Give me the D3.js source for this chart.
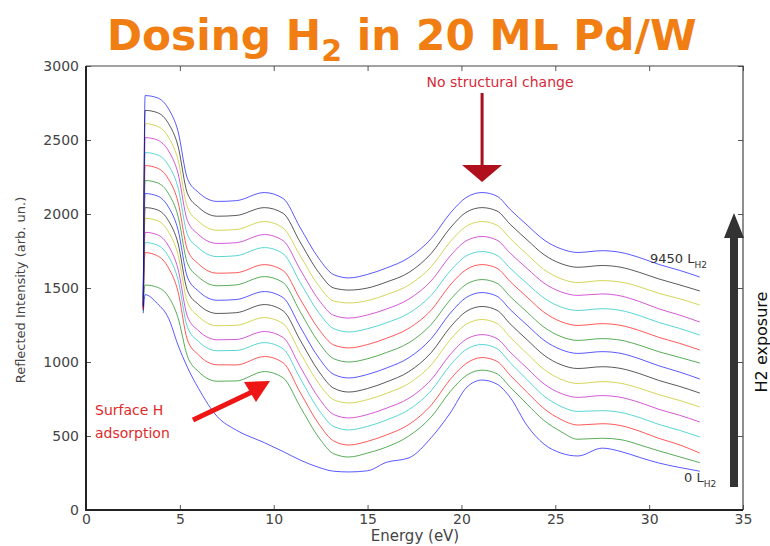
<!DOCTYPE html>
<html>
<head>
<meta charset="utf-8">
<script src="https://cdn.jsdelivr.net/npm/d3@7"></script>
<style>
body { margin: 0; background: #fff; }
text { font-family: "DejaVu Sans", sans-serif; }
</style>
</head>
<body>
<svg id="chart" width="770" height="546"></svg>
<script>
// Energy grid (eV) shared by all spectra
var energy = [3.05, 3.15, 3.8, 4.4, 4.9, 5.4, 6.0, 7.0, 8.0, 9.5, 10.5, 11.4, 12.4, 13.2, 14.0, 15.0, 16.0,
  17.2, 18.4, 19.4, 20.3, 21.1, 21.9, 22.6, 23.5, 24.4, 25.3, 26.2, 27.5, 28.5, 29.5, 30.5, 31.6, 32.7];

// Reflected intensity, one spectrum per H2 dose (bottom = 0 L, top = 9450 L)
var spec01 = [1330, 1455, 1395, 1295, 1115, 965, 820, 630, 540, 455, 395, 338, 288, 262, 257, 265, 322,
  352, 490, 655, 831, 878, 850, 760, 570, 445, 385, 365, 418, 395, 355, 318, 288, 262];
var spec02 = [1400, 1520, 1505, 1440, 1300, 1040, 935, 870, 872, 935, 893, 700, 490, 380, 358, 385, 425,
  500, 630, 800, 912, 945, 920, 830, 715, 605, 530, 478, 485, 475, 440, 400, 360, 320];
var spec03 = [1370, 1739, 1718, 1635, 1477, 1150, 1047, 981, 980, 1037, 995, 797, 582, 466, 439, 464, 507,
  578, 710, 882, 994, 1030, 1004, 910, 795, 685, 612, 574, 583, 570, 532, 485, 441, 385];
var spec04 = [1340, 1807, 1790, 1712, 1558, 1236, 1138, 1076, 1078, 1131, 1089, 892, 677, 564, 541, 565, 608,
  678, 808, 978, 1088, 1118, 1090, 995, 880, 770, 700, 666, 671, 659, 624, 579, 539, 493];
var spec05 = [1400, 1876, 1860, 1783, 1630, 1308, 1211, 1150, 1152, 1206, 1166, 970, 757, 645, 622, 645, 688,
  755, 882, 1050, 1157, 1185, 1158, 1066, 958, 852, 788, 761, 773, 761, 726, 681, 641, 595];
var spec06 = [1380, 1971, 1955, 1878, 1726, 1404, 1307, 1245, 1248, 1300, 1260, 1065, 855, 745, 723, 746, 788,
  855, 982, 1150, 1259, 1287, 1260, 1167, 1057, 950, 883, 855, 867, 856, 822, 780, 741, 696];
var spec07 = [1350, 2043, 2028, 1953, 1803, 1483, 1388, 1328, 1333, 1388, 1346, 1150, 937, 823, 797, 821, 865,
  935, 1065, 1235, 1345, 1375, 1349, 1257, 1150, 1046, 982, 956, 968, 956, 921, 876, 836, 790];
var spec08 = [1440, 2138, 2122, 2046, 1895, 1574, 1478, 1417, 1422, 1476, 1435, 1240, 1028, 916, 892, 916, 959,
  1029, 1159, 1329, 1439, 1469, 1444, 1354, 1249, 1147, 1084, 1058, 1070, 1058, 1021, 975, 933, 885];
var spec09 = [1390, 2226, 2211, 2137, 1987, 1668, 1574, 1515, 1521, 1577, 1537, 1342, 1132, 1022, 1000, 1022, 1064,
  1130, 1255, 1420, 1528, 1557, 1532, 1442, 1337, 1235, 1172, 1146, 1158, 1147, 1113, 1070, 1032, 993];
var spec10 = [1350, 2327, 2310, 2235, 2083, 1760, 1662, 1600, 1603, 1658, 1618, 1427, 1222, 1115, 1095, 1118, 1160,
  1228, 1352, 1520, 1628, 1658, 1633, 1543, 1438, 1336, 1273, 1247, 1259, 1247, 1212, 1167, 1127, 1081];
var spec11 = [1420, 2415, 2400, 2328, 2180, 1862, 1770, 1712, 1718, 1773, 1732, 1540, 1333, 1225, 1203, 1225, 1265,
  1330, 1452, 1615, 1720, 1746, 1720, 1633, 1530, 1432, 1372, 1348, 1360, 1348, 1313, 1268, 1228, 1182];
var spec12 = [1360, 2516, 2500, 2426, 2276, 1956, 1861, 1801, 1806, 1861, 1820, 1627, 1420, 1315, 1297, 1318, 1358,
  1425, 1550, 1716, 1822, 1848, 1823, 1735, 1632, 1533, 1474, 1450, 1460, 1446, 1408, 1360, 1318, 1270];
var spec13 = [1400, 2610, 2593, 2518, 2367, 2046, 1950, 1890, 1895, 1949, 1905, 1720, 1515, 1412, 1399, 1415, 1455,
  1520, 1645, 1812, 1920, 1949, 1924, 1834, 1727, 1625, 1563, 1537, 1550, 1540, 1507, 1465, 1428, 1385];
var spec14 = [1370, 2700, 2685, 2610, 2460, 2140, 2045, 1985, 1990, 2043, 2005, 1812, 1605, 1500, 1486, 1500, 1540,
  1605, 1735, 1905, 2015, 2043, 2020, 1930, 1825, 1725, 1665, 1640, 1652, 1640, 1605, 1562, 1522, 1480];
var spec15 = [1380, 2800, 2785, 2710, 2560, 2240, 2145, 2085, 2090, 2145, 2105, 1910, 1700, 1590, 1568, 1592, 1635,
  1705, 1835, 2005, 2115, 2145, 2120, 2030, 1925, 1825, 1765, 1740, 1752, 1740, 1705, 1660, 1620, 1574];

var spectra = [spec01, spec02, spec03, spec04, spec05, spec06, spec07, spec08,
  spec09, spec10, spec11, spec12, spec13, spec14, spec15];

// matplotlib classic colour cycle b g r c m y k
var lineColors = ['#0000ff', '#008000', '#ff0000', '#00bfbf', '#bf00bf', '#bfbf00', '#000000',
  '#0000ff', '#008000', '#ff0000', '#00bfbf', '#bf00bf', '#bfbf00', '#000000', '#0000ff'];

var xTicks = [0, 5, 10, 15, 20, 25, 30, 35];
var yTicks = [0, 500, 1000, 1500, 2000, 2500, 3000];

var svg = d3.select('#chart');
var pLeft = 86, pRight = 743, pTop = 66, pBottom = 510;

var x = d3.scaleLinear().domain([0, 35]).range([pLeft, pRight]);
var y = d3.scaleLinear().domain([0, 3000]).range([pBottom, pTop]);

// Spectra
var line = d3.line()
  .x(function(d, i) { return x(energy[i]); })
  .y(function(d) { return y(d); })
  .curve(d3.curveMonotoneX);

svg.append('g')
  .selectAll('path')
  .data(spectra)
  .enter()
  .append('path')
  .attr('d', line)
  .attr('fill', 'none')
  .attr('stroke', function(d, i) { return lineColors[i]; })
  .attr('stroke-width', 1)
  .attr('stroke-opacity', 0.65);

// Axes, ticks pointing inwards on all four sides
svg.append('g')
  .attr('transform', 'translate(0,' + pBottom + ')')
  .call(d3.axisBottom(x).tickValues(xTicks).tickSize(-5).tickPadding(4));
svg.append('g')
  .attr('transform', 'translate(' + pLeft + ',0)')
  .call(d3.axisLeft(y).tickValues(yTicks).tickFormat(d3.format('d')).tickSize(-5).tickPadding(7));
svg.append('g')
  .attr('transform', 'translate(0,' + pTop + ')')
  .call(d3.axisTop(x).tickValues(xTicks).tickSize(-5).tickFormat(''));
svg.append('g')
  .attr('transform', 'translate(' + pRight + ',0)')
  .call(d3.axisRight(y).tickValues(yTicks).tickSize(-5).tickFormat(''));

svg.selectAll('.domain').remove();
svg.selectAll('.tick line').attr('stroke', '#555');
svg.selectAll('.tick text').attr('fill', '#444').style('font-size', '14px')
  .style('font-family', '"DejaVu Sans", sans-serif');

// frame
svg.append('path')
  .attr('d', 'M' + pLeft + ',' + pTop + 'H' + pRight + 'V' + pBottom)
  .attr('fill', 'none').attr('stroke', '#444').attr('stroke-width', 1.2);
svg.append('path')
  .attr('d', 'M' + pLeft + ',' + pTop + 'V' + pBottom + 'H' + pRight)
  .attr('fill', 'none').attr('stroke', '#222').attr('stroke-width', 2);

// axis labels
svg.append('text')
  .attr('x', 415).attr('y', 541)
  .attr('text-anchor', 'middle')
  .attr('fill', '#444')
  .style('font-size', '15px')
  .text('Energy (eV)');

svg.append('text')
  .attr('transform', 'translate(25,290) rotate(-90)')
  .attr('text-anchor', 'middle')
  .attr('fill', '#444')
  .style('font-size', '13px')
  .text('Reflected Intensity (arb. un.)');

// Title
var title = svg.append('text')
  .attr('x', 107).attr('y', 50)
  .attr('fill', '#f07e12')
  .style('font-weight', 'bold')
  .style('font-size', '40px');
title.append('tspan').text('Dosing H');
title.append('tspan').attr('dy', 11).style('font-size', '30px').text('2');
title.append('tspan').attr('dy', -11).text(' in 20 ML Pd/W');
var tw = title.node().getComputedTextLength();
title.style('font-size', (40 * 591 / tw) + 'px');

// Annotation: no structural change
svg.append('text')
  .attr('x', 500).attr('y', 87)
  .attr('text-anchor', 'middle')
  .attr('fill', '#d42a3a')
  .style('font-size', '14px')
  .text('No structural change');
svg.append('line')
  .attr('x1', x(21.1)).attr('x2', x(21.1))
  .attr('y1', 93).attr('y2', 166)
  .attr('stroke', '#a8101e').attr('stroke-width', 3);
svg.append('path')
  .attr('d', 'M' + (x(21.1) - 20) + ',165L' + (x(21.1) + 20) + ',165L' + x(21.1) + ',182Z')
  .attr('fill', '#b0101e');

// Annotation: surface H adsorption
svg.append('text')
  .attr('x', 95).attr('y', 415)
  .attr('fill', '#e02a2a')
  .style('font-size', '14px')
  .text('Surface H');
svg.append('text')
  .attr('x', 95).attr('y', 438)
  .attr('fill', '#e02a2a')
  .style('font-size', '14px')
  .text('adsorption');
svg.append('line')
  .attr('x1', 193).attr('y1', 420)
  .attr('x2', 252).attr('y2', 392)
  .attr('stroke', '#ee1515').attr('stroke-width', 5);
svg.append('path')
  .attr('d', 'M244,382L270,381L256,402Z')
  .attr('fill', '#ee1515');

// dose labels
var lab1 = svg.append('text').attr('x', 650).attr('y', 263).attr('fill', '#333').style('font-size', '13px');
lab1.append('tspan').text('9450 L');
lab1.append('tspan').attr('dy', 5).style('font-size', '9px').text('H2');
var lab0 = svg.append('text').attr('x', 684).attr('y', 482).attr('fill', '#333').style('font-size', '13px');
lab0.append('tspan').text('0 L');
lab0.append('tspan').attr('dy', 5).style('font-size', '9px').text('H2');

// exposure arrow
svg.append('rect')
  .attr('x', 730).attr('y', 236).attr('width', 8).attr('height', 251)
  .attr('fill', '#333');
svg.append('path')
  .attr('d', 'M724,238L744,238L734,213Z')
  .attr('fill', '#333');
svg.append('text')
  .attr('transform', 'translate(767,342) rotate(-90)')
  .attr('text-anchor', 'middle')
  .attr('fill', '#111')
  .style('font-size', '16px')
  .text('H2 exposure');
</script>
</body>
</html>
